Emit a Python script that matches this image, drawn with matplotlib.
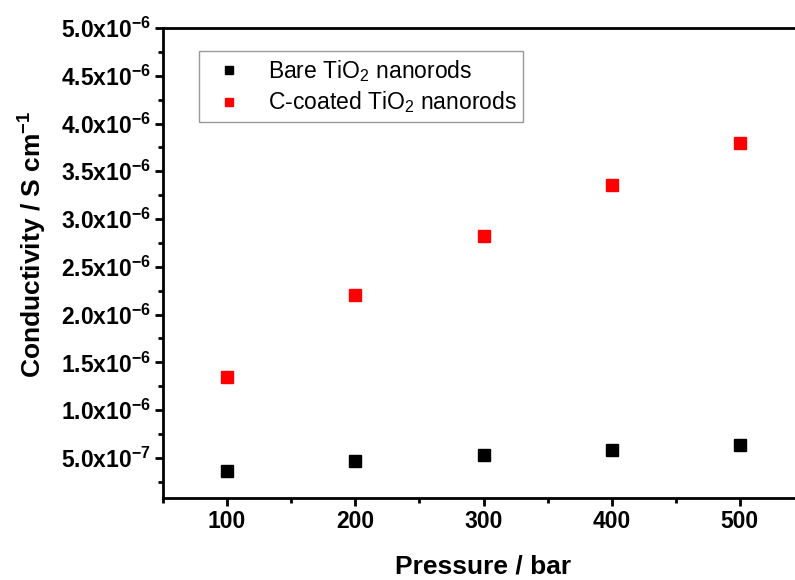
import matplotlib
matplotlib.use('Agg')
import matplotlib.pyplot as plt
from matplotlib.ticker import MultipleLocator, FuncFormatter

pressure = [100, 200, 300, 400, 500]
bare_tio2 = [3.66e-7, 4.65e-7, 5.35e-7, 5.87e-7, 6.4e-7]
coated_tio2 = [1.346e-6, 2.2e-6, 2.82e-6, 3.36e-6, 3.8e-6]

plt.rcParams['font.family'] = ['Liberation Sans', 'DejaVu Sans']
plt.rcParams['mathtext.fontset'] = 'custom'
plt.rcParams['mathtext.rm'] = 'Liberation Sans'
plt.rcParams['mathtext.bf'] = 'Liberation Sans:bold'
plt.rcParams['mathtext.default'] = 'bf'

fig = plt.figure(figsize=(7.95, 5.8), dpi=100)
# axes run past the right edge, like the cropped original
ax = fig.add_axes([163 / 795, (580 - 498) / 580, (804 - 163) / 795, (498 - 28) / 580])

ax.plot(pressure, bare_tio2, 's', color='black', markersize=8.5,
        label=r'Bare TiO$_\mathrm{2}$ nanorods')
ax.plot(pressure, coated_tio2, 's', color='red', markersize=8.5,
        label=r'C-coated TiO$_\mathrm{2}$ nanorods')

ax.set_xlim(50, 550)
ax.set_ylim(0.8e-7, 5.0e-6)

ax.xaxis.set_major_locator(MultipleLocator(100))
ax.xaxis.set_minor_locator(MultipleLocator(50))
ax.yaxis.set_major_locator(MultipleLocator(5e-7))
ax.yaxis.set_minor_locator(MultipleLocator(2.5e-7))


def sci_fmt(v, pos):
    if v <= 0:
        return ''
    exp = 0
    m = v
    while m >= 10:
        m /= 10
        exp += 1
    while m < 1:
        m *= 10
        exp -= 1
    return r'%.1fx10$^{%d}$' % (m, exp)


ax.yaxis.set_major_formatter(FuncFormatter(sci_fmt))

for s in ['left', 'bottom', 'top']:
    ax.spines[s].set_linewidth(2)
ax.spines['right'].set_visible(False)

ax.tick_params(which='major', direction='out', length=6, width=2,
               labelsize=16.5, pad=3)
ax.tick_params(which='minor', direction='out', length=3.5, width=2)
for lab in ax.get_xticklabels() + ax.get_yticklabels():
    lab.set_fontweight('bold')

ax.set_xlabel('Pressure / bar', fontsize=19, fontweight='bold', labelpad=15)
ax.set_ylabel(r'Conductivity / S cm$^{-1}$', fontsize=19, fontweight='bold')
ax.yaxis.set_label_coords(-0.178, 0.54)

leg = ax.legend(loc='upper left', bbox_to_anchor=(0.056, 0.951), fontsize=16.5,
                frameon=True, fancybox=False, edgecolor='gray',
                handletextpad=0.7, borderpad=0.3, labelspacing=0.25,
                handlelength=2.0, markerscale=0.7, borderaxespad=0)
leg.get_frame().set_linewidth(1)

fig.savefig('out.png', dpi=100)
